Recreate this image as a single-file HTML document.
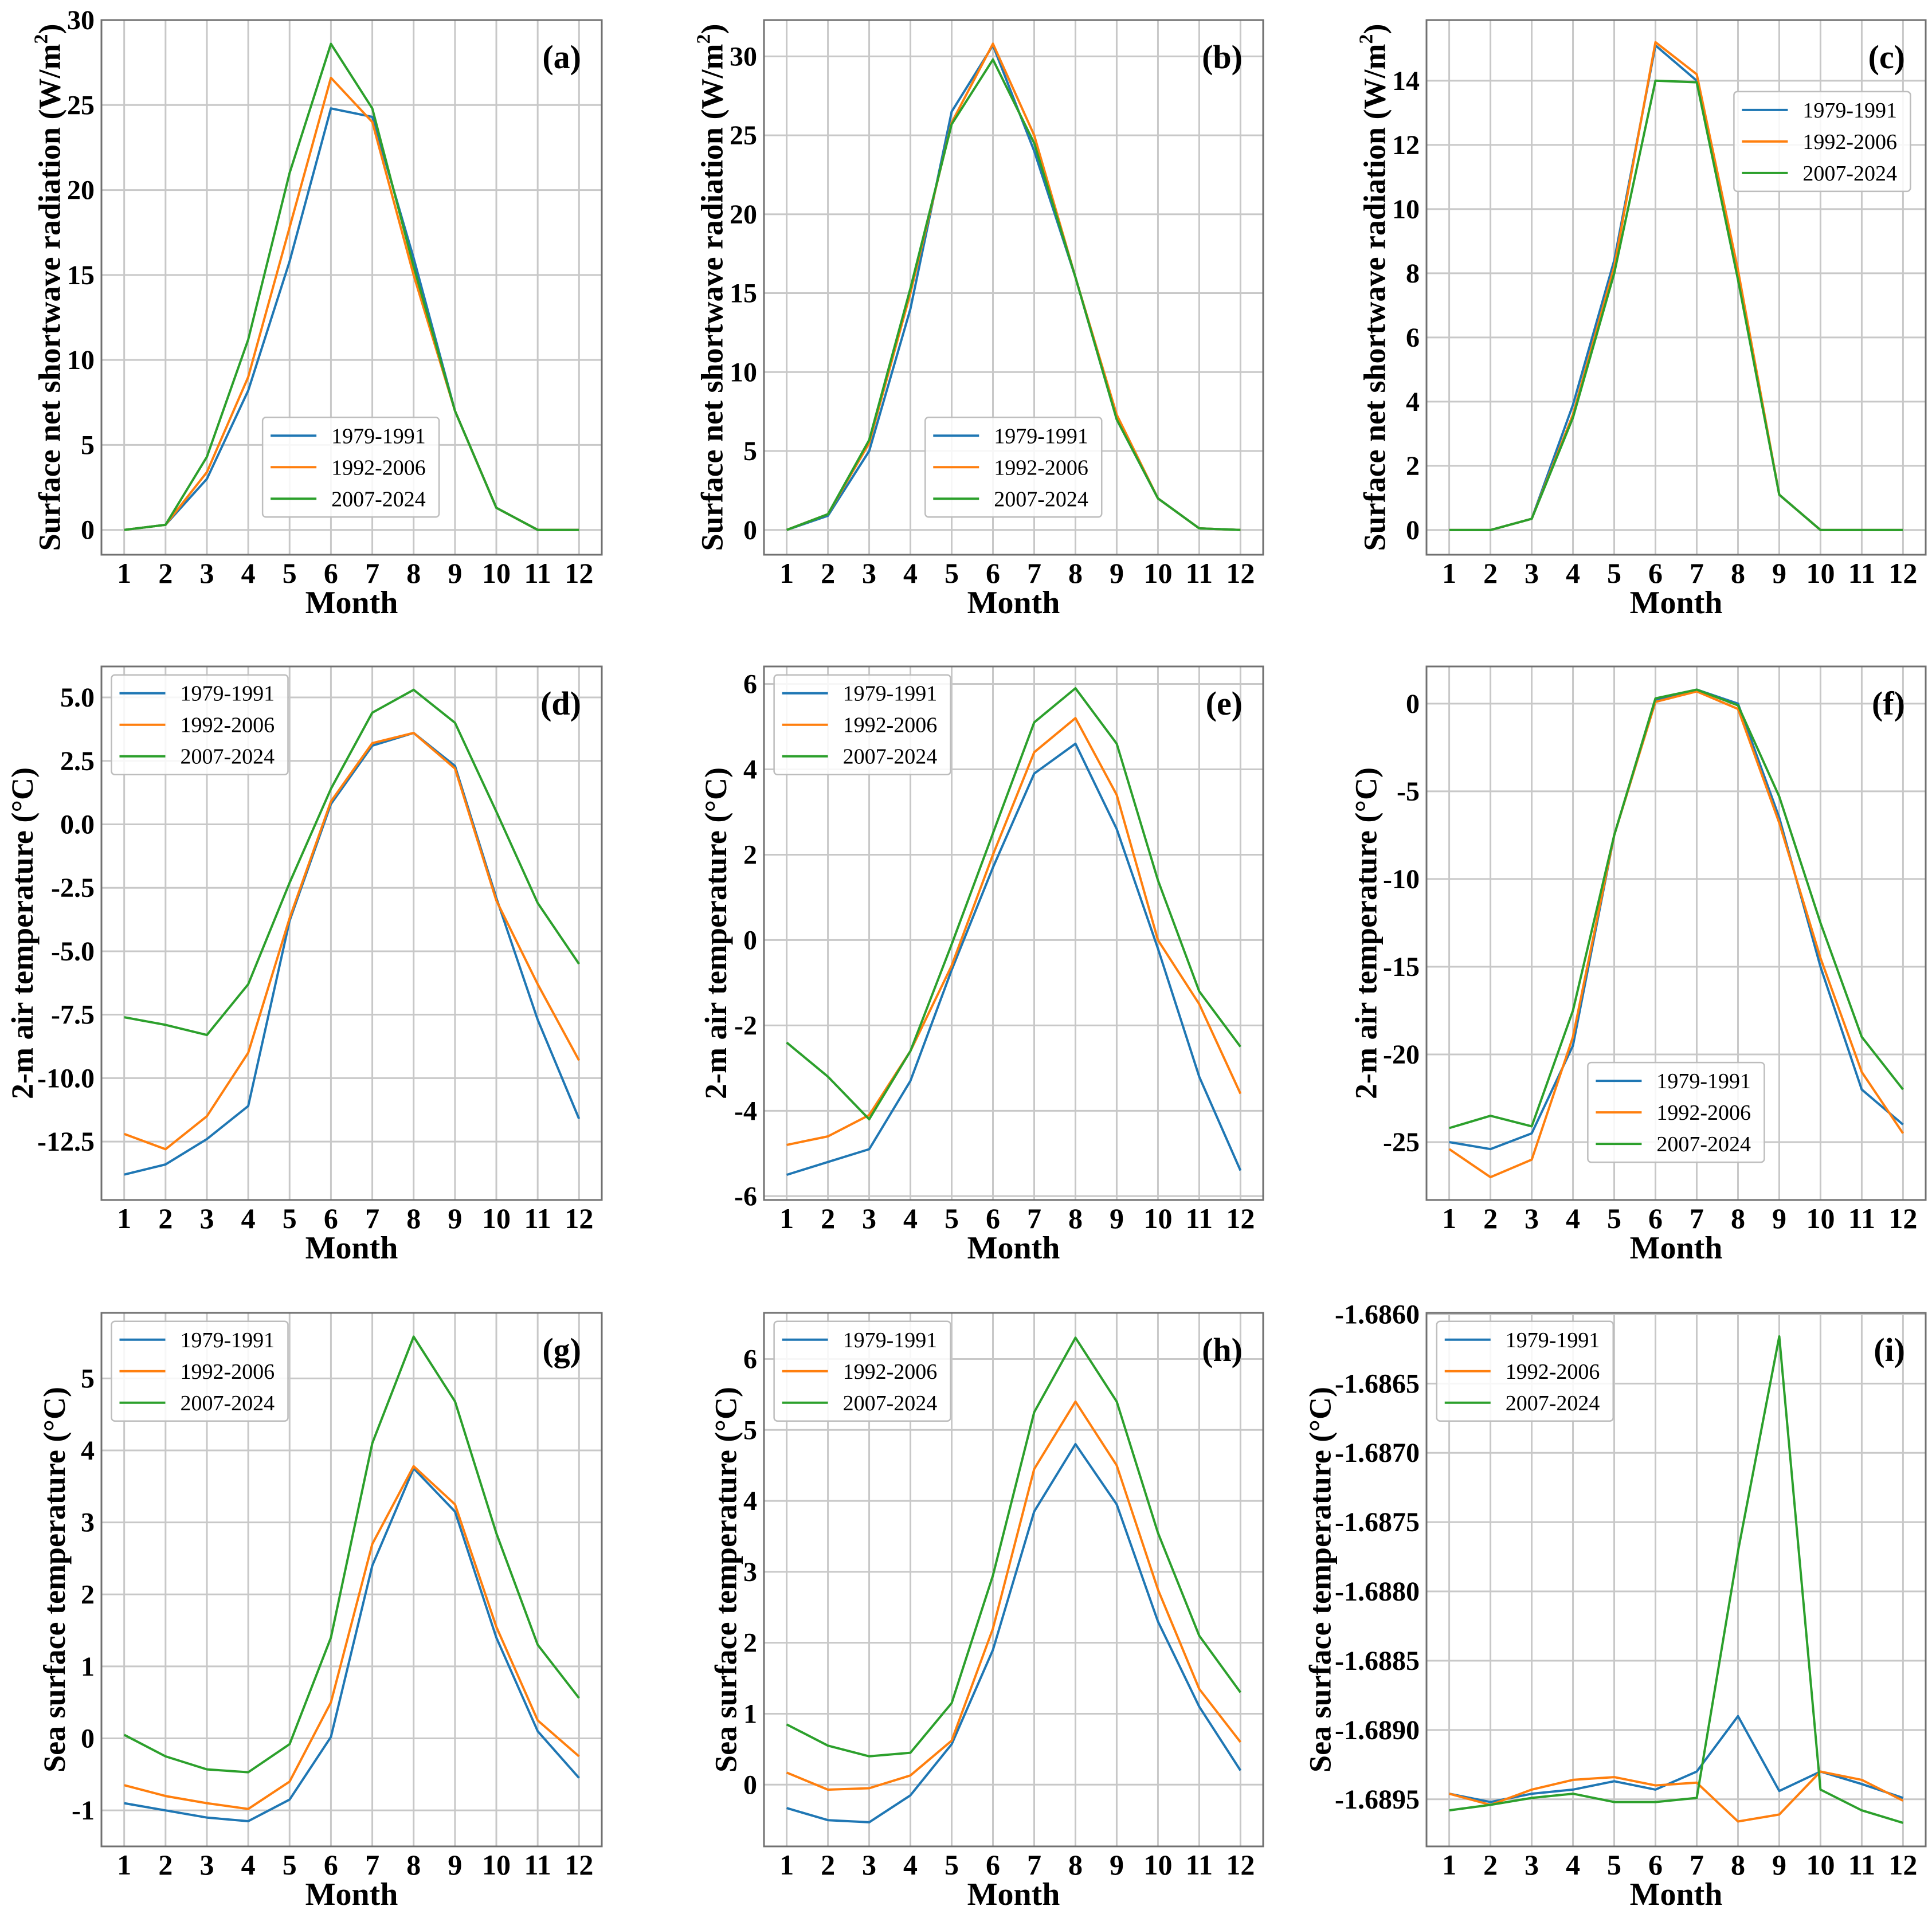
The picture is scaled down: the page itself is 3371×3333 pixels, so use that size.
<!DOCTYPE html>
<html><head><meta charset="utf-8">
<style>
html,body{margin:0;padding:0;background:#fff;}
svg{display:block;font-family:"Liberation Serif",serif;}
</style></head>
<body>
<svg id="fig" width="3371" height="3333" viewBox="0 0 3371 3333" xmlns="http://www.w3.org/2000/svg"></svg>
<script>
const months = [1,2,3,4,5,6,7,8,9,10,11,12];
const seriesNames = ["1979-1991","1992-2006","2007-2024"];
const colors = ["#1f77b4","#ff7f0e","#2ca02c"];

const aBlue = [0,0.3,3,8.2,15.8,24.8,24.3,16,7,1.3,0,0];
const aOrange = [0,0.3,3.4,9,17.8,26.6,24,15,7,1.3,0,0];
const aGreen = [0,0.3,4.3,11.2,21,28.6,24.8,15.5,7,1.3,0,0];
const bBlue = [0,0.9,5,14,26.5,30.7,24,16,7,2,0.1,0];
const bOrange = [0,1,5.5,15,25.8,30.8,25,16,7.3,2,0.1,0];
const bGreen = [0,1,5.7,15.3,25.7,29.8,24.5,16,7,2,0.1,0];
const cBlue = [0,0,0.35,3.9,8.4,15.1,14,7.9,1.1,0,0,0];
const cOrange = [0,0,0.35,3.6,8.2,15.2,14.2,8.1,1.1,0,0,0];
const cGreen = [0,0,0.35,3.5,8,14.0,13.95,7.8,1.1,0,0,0];
const dBlue = [-13.8,-13.4,-12.4,-11.1,-3.8,0.8,3.1,3.6,2.3,-2.9,-7.7,-11.6];
const dOrange = [-12.2,-12.8,-11.5,-9,-3.7,0.9,3.2,3.6,2.2,-3,-6.3,-9.3];
const dGreen = [-7.6,-7.9,-8.3,-6.3,-2.3,1.4,4.4,5.3,4,0.5,-3.1,-5.5];
const eBlue = [-5.5,-5.2,-4.9,-3.3,-0.7,1.7,3.9,4.6,2.6,-0.2,-3.2,-5.4];
const eOrange = [-4.8,-4.6,-4.1,-2.6,-0.6,2.0,4.4,5.2,3.4,0.0,-1.5,-3.6];
const eGreen = [-2.4,-3.2,-4.2,-2.6,-0.1,2.5,5.1,5.9,4.6,1.4,-1.2,-2.5];
const fBlue = [-25,-25.4,-24.5,-19.5,-7.5,0.2,0.8,0,-6.5,-15,-22,-24];
const fOrange = [-25.4,-27,-26,-19,-7.5,0.1,0.7,-0.3,-6.8,-14.5,-21,-24.5];
const fGreen = [-24.2,-23.5,-24.1,-17.5,-7.5,0.3,0.8,-0.1,-5.3,-12.5,-19,-22];
const gBlue = [-0.9,-1.0,-1.1,-1.15,-0.85,0.02,2.4,3.75,3.15,1.4,0.1,-0.55];
const gOrange = [-0.65,-0.8,-0.9,-0.98,-0.6,0.5,2.7,3.78,3.25,1.55,0.25,-0.25];
const gGreen = [0.05,-0.25,-0.43,-0.47,-0.08,1.4,4.1,5.58,4.68,2.85,1.3,0.56];
const hBlue = [-0.33,-0.5,-0.53,-0.15,0.57,1.9,3.85,4.8,3.95,2.3,1.1,0.2];
const hOrange = [0.17,-0.07,-0.05,0.13,0.62,2.2,4.45,5.4,4.5,2.75,1.35,0.6];
const hGreen = [0.85,0.55,0.4,0.45,1.15,2.95,5.25,6.3,5.4,3.55,2.1,1.3];
const iBlue = [-1.68946,-1.68952,-1.68946,-1.68943,-1.68937,-1.68943,-1.68930,-1.68890,-1.68944,-1.68930,-1.68939,-1.68949];
const iOrange = [-1.68946,-1.68954,-1.68943,-1.68936,-1.68934,-1.68940,-1.68938,-1.68966,-1.68961,-1.68930,-1.68936,-1.68951];
const iGreen = [-1.68958,-1.68954,-1.68949,-1.68946,-1.68952,-1.68952,-1.68949,-1.68771,-1.68616,-1.68943,-1.68958,-1.68967];

const ticksA = [0,5,10,15,20,25,30];
const ticksB = [0,5,10,15,20,25,30];
const ticksC = [0,2,4,6,8,10,12,14];
const ticksD = [-12.5,-10,-7.5,-5,-2.5,0,2.5,5];
const ticksE = [-6,-4,-2,0,2,4,6];
const ticksF = [-25,-20,-15,-10,-5,0];
const ticksG = [-1,0,1,2,3,4,5];
const ticksH = [0,1,2,3,4,5,6];
const ticksI = [-1.6895,-1.689,-1.6885,-1.688,-1.6875,-1.687,-1.6865,-1.686];

const NS = "http://www.w3.org/2000/svg";
const svg = document.getElementById('fig');
function el(tag, attrs, parent, text){
  const e = document.createElementNS(NS, tag);
  for (const k in attrs) e.setAttribute(k, attrs[k]);
  if (text !== undefined) e.textContent = text;
  (parent||svg).appendChild(e);
  return e;
}
const S = 2.161;
const colsX = [[177,1050],[1333,2204],[2489,3360]];
const rowsY = [[35,968],[1163,2094],[2291,3222]];
const SW = "Surface net shortwave radiation (W/m";
const panels = [
 {id:'a',c:0,r:0,data:[aBlue,aOrange,aGreen],ticks:ticksA,ymin:-1.46,ymax:30.0,dec:0,lab:'sw',ylx:40,leg:[212,337]},
 {id:'b',c:1,r:0,data:[bBlue,bOrange,bGreen],ticks:ticksB,ymin:-1.57,ymax:32.3,dec:0,lab:'sw',ylx:575,leg:[747,337]},
 {id:'c',c:2,r:0,data:[cBlue,cOrange,cGreen],ticks:ticksC,ymin:-0.77,ymax:15.89,dec:0,lab:'sw',ylx:1110,leg:[1400,74]},
 {id:'d',c:0,r:1,data:[dBlue,dOrange,dGreen],ticks:ticksD,ymin:-14.8,ymax:6.22,dec:1,lab:'2-m air temperature (°C)',ylx:18,leg:[90,545]},
 {id:'e',c:1,r:1,data:[eBlue,eOrange,eGreen],ticks:ticksE,ymin:-6.09,ymax:6.41,dec:0,lab:'2-m air temperature (°C)',ylx:578,leg:[625,545]},
 {id:'f',c:2,r:1,data:[fBlue,fOrange,fGreen],ticks:ticksF,ymin:-28.3,ymax:2.12,dec:0,lab:'2-m air temperature (°C)',ylx:1103,leg:[1282,858]},
 {id:'g',c:0,r:2,data:[gBlue,gOrange,gGreen],ticks:ticksG,ymin:-1.5,ymax:5.91,dec:0,lab:'Sea surface temperature (°C)',ylx:44,leg:[90,1067]},
 {id:'h',c:1,r:2,data:[hBlue,hOrange,hGreen],ticks:ticksH,ymin:-0.87,ymax:6.65,dec:0,lab:'Sea surface temperature (°C)',ylx:586,leg:[625,1067]},
 {id:'i',c:2,r:2,data:[iBlue,iOrange,iGreen],ticks:ticksI,ymin:-1.68984,ymax:-1.68599,dec:4,lab:'Sea surface temperature (°C)',ylx:1066,leg:[1160,1067]},
];

panels.forEach(p=>{
  const [L,R] = colsX[p.c], [T,B] = rowsY[p.r];
  const g = el('g',{}, svg);
  
  
  const xs = m => L + (m - 0.45)/12.1*(R-L);
  const ys = v => B - (v - p.ymin)/(p.ymax - p.ymin)*(B-T);
  months.forEach(m=>{
    const ln = el('line',{x1:xs(m),x2:xs(m),y1:T,y2:B,stroke:'#c8c8c8','stroke-width':3},g);
    
    
    const t = el('text',{x:xs(m),y:B+49,'text-anchor':'middle','font-size':50,'font-weight':'bold',fill:'#000'},g,String(m));
    
    
  });
  p.ticks.forEach(v=>{
    const ln = el('line',{x1:L,x2:R,y1:ys(v),y2:ys(v),stroke:'#c8c8c8','stroke-width':3},g);
    
    
    const t = el('text',{x:L-12,y:ys(v)+16,'text-anchor':'end','font-size':48,'font-weight':'bold',fill:'#000'},g,v.toFixed(p.dec));
    
    
  });
  p.data.forEach((arr,k)=>{
    const pts = arr.map((v,i)=>xs(months[i]).toFixed(1)+','+ys(v).toFixed(1)).join(' ');
    const pl = el('polyline',{points:pts,fill:'none',stroke:colors[k],'stroke-width':4,'stroke-linejoin':'round'},g);
    
    
  });
  const fr = el('rect',{x:L,y:T,width:R-L,height:B-T,fill:'none',stroke:'#707070','stroke-width':3},g);
  
  
  const pt = el('text',{x:R-36,y:T+84,'text-anchor':'end','font-size':58,'font-weight':'bold',fill:'#000'},g,'('+p.id+')');
  
  
  const xl = el('text',{x:(L+R)/2,y:B+102,'text-anchor':'middle','font-size':56,'font-weight':'bold',fill:'#000'},g,'Month');
  
  
  const cx = p.ylx*S, cy=(T+B)/2;
  const yl = el('text',{x:cx,y:cy,'text-anchor':'middle','font-size':54,'font-weight':'bold',fill:'#000',transform:`rotate(-90 ${cx} ${cy}) translate(0 18)`},g);
  
  
  if (p.lab==='sw'){
    yl.appendChild(document.createTextNode(SW));
    el('tspan',{'font-size':34,dy:-22},yl,'2');
    el('tspan',{dy:22},yl,')');
  } else yl.textContent = p.lab;
  const lx = p.leg[0]*S, ly = p.leg[1]*S;
  const lg = el('g',{},g);
  
  
  el('rect',{x:lx,y:ly,width:308,height:174,rx:6,fill:'#fff','fill-opacity':0.85,stroke:'#bdbdbd','stroke-width':2.5},lg);
  seriesNames.forEach((n,k)=>{
    const yy = ly+32+k*55;
    const e1 = el('line',{x1:lx+14,x2:lx+94,y1:yy,y2:yy,stroke:colors[k],'stroke-width':4},lg);
    
    
    const e2 = el('text',{x:lx+120,y:yy+13,'font-size':38,fill:'#000'},lg,n);
    
    
  });
});
</script>
</body></html>
